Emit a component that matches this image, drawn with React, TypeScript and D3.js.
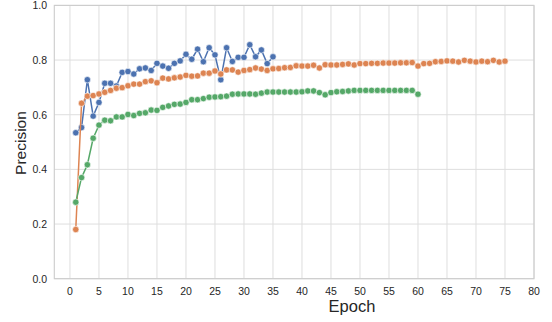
import { useEffect, useRef } from "react";
import * as d3 from "d3";

const blueValues = [
  0.534, 0.553, 0.728, 0.595, 0.645, 0.715, 0.715, 0.705, 0.755, 0.758,
  0.749, 0.768, 0.771, 0.762, 0.788, 0.778, 0.77, 0.788, 0.797, 0.821,
  0.803, 0.84, 0.794, 0.845, 0.819, 0.728, 0.845, 0.795, 0.81, 0.81,
  0.856, 0.812, 0.837, 0.787, 0.812,
];

const orangeValues = [
  0.18, 0.642, 0.668, 0.67, 0.676, 0.682, 0.689, 0.697, 0.699, 0.706,
  0.712, 0.712, 0.721, 0.724, 0.717, 0.734, 0.731, 0.735, 0.738, 0.744,
  0.741, 0.742, 0.752, 0.752, 0.76, 0.749, 0.764, 0.764, 0.756, 0.762,
  0.765, 0.771, 0.767, 0.762, 0.768, 0.769, 0.772, 0.773, 0.779, 0.778,
  0.778, 0.781, 0.771, 0.783, 0.782, 0.782, 0.784, 0.786, 0.782, 0.787,
  0.787, 0.788, 0.788, 0.789, 0.789, 0.789, 0.79, 0.79, 0.791, 0.778,
  0.787, 0.788, 0.794, 0.795, 0.797, 0.796, 0.793, 0.799, 0.796, 0.793,
  0.796, 0.794, 0.799, 0.793, 0.796,
];

const greenValues = [
  0.28, 0.37, 0.417, 0.514, 0.562, 0.58, 0.578, 0.592, 0.592, 0.601,
  0.597, 0.605, 0.607, 0.617, 0.616, 0.627, 0.632, 0.638, 0.639, 0.645,
  0.655, 0.655, 0.659, 0.664, 0.665, 0.666, 0.668, 0.675, 0.676, 0.676,
  0.676, 0.675, 0.679, 0.683, 0.683, 0.683, 0.683, 0.683, 0.683, 0.684,
  0.687, 0.687, 0.681, 0.673, 0.681, 0.684, 0.685, 0.687, 0.689, 0.689,
  0.689, 0.689, 0.689, 0.689, 0.689, 0.689, 0.689, 0.689, 0.689, 0.675,
];

const xTicks = d3.range(0, 81, 5);
const yTicks = [0, 0.2, 0.4, 0.6, 0.8, 1.0];

const seriesList = [
  { name: "blue", color: "#4c72b0", values: blueValues },
  { name: "orange", color: "#dd8452", values: orangeValues },
  { name: "green", color: "#55a868", values: greenValues },
];

const WIDTH = 552;
const HEIGHT = 322;
const PLOT = { left: 54.3, right: 534, top: 5.4, bottom: 278.7 };
const FONT = "'Liberation Sans', Arial, sans-serif";

const PrecisionChart = () => {
  const svgRef = useRef<SVGSVGElement | null>(null);

  useEffect(() => {
    if (!svgRef.current) return;
    const svg = d3.select(svgRef.current);
    svg.selectAll("*").remove();

    const x = d3.scaleLinear().domain([-2.7, 80]).range([PLOT.left, PLOT.right]);
    const y = d3.scaleLinear().domain([0, 1]).range([PLOT.bottom, PLOT.top]);

    svg
      .append("rect")
      .attr("width", WIDTH)
      .attr("height", HEIGHT)
      .attr("fill", "#ffffff");

    // Grid lines
    svg
      .append("g")
      .selectAll("line")
      .data(xTicks)
      .join("line")
      .attr("x1", (v) => x(v))
      .attr("x2", (v) => x(v))
      .attr("y1", PLOT.top)
      .attr("y2", PLOT.bottom)
      .attr("stroke", "#dedede")
      .attr("stroke-width", 1);

    svg
      .append("g")
      .selectAll("line")
      .data(yTicks)
      .join("line")
      .attr("x1", PLOT.left)
      .attr("x2", PLOT.right)
      .attr("y1", (v) => y(v))
      .attr("y2", (v) => y(v))
      .attr("stroke", "#dedede")
      .attr("stroke-width", 1);

    // Frame
    svg
      .append("rect")
      .attr("x", PLOT.left)
      .attr("y", PLOT.top)
      .attr("width", PLOT.right - PLOT.left)
      .attr("height", PLOT.bottom - PLOT.top)
      .attr("fill", "none")
      .attr("stroke", "#cccccc")
      .attr("stroke-width", 1.1);

    // Tick labels
    svg
      .append("g")
      .selectAll("text")
      .data(xTicks)
      .join("text")
      .attr("x", (v) => x(v))
      .attr("y", 295)
      .attr("text-anchor", "middle")
      .attr("font-family", FONT)
      .attr("font-size", 10.5)
      .attr("fill", "#262626")
      .text((v) => String(v));

    svg
      .append("g")
      .selectAll("text")
      .data(yTicks)
      .join("text")
      .attr("x", 47)
      .attr("y", (v) => y(v) + 3.8)
      .attr("text-anchor", "end")
      .attr("font-family", FONT)
      .attr("font-size", 10.5)
      .attr("fill", "#262626")
      .text((v) => v.toFixed(1));

    // Axis labels
    svg
      .append("text")
      .attr("x", 352)
      .attr("y", 312)
      .attr("text-anchor", "middle")
      .attr("font-family", FONT)
      .attr("font-size", 16.5)
      .attr("fill", "#262626")
      .text("Epoch");

    svg
      .append("text")
      .attr("transform", `translate(26, ${(PLOT.top + PLOT.bottom) / 2 + 1}) rotate(-90)`)
      .attr("text-anchor", "middle")
      .attr("font-family", FONT)
      .attr("font-size", 15.5)
      .attr("fill", "#262626")
      .text("Precision");

    const line = d3
      .line<number>()
      .x((_, i) => x(i + 1))
      .y((v) => y(v));

    seriesList.forEach((s) => {
      const g = svg.append("g");
      g.append("path")
        .datum(s.values)
        .attr("d", line)
        .attr("fill", "none")
        .attr("stroke", s.color)
        .attr("stroke-width", 1.5);

      g.selectAll("circle")
        .data(s.values)
        .join("circle")
        .attr("cx", (_, i) => x(i + 1))
        .attr("cy", (v) => y(v))
        .attr("r", 3.2)
        .attr("fill", s.color)
        .attr("stroke", "#ffffff")
        .attr("stroke-width", 0.6);
    });
  }, []);

  return (
    <svg
      ref={svgRef}
      width={WIDTH}
      height={HEIGHT}
      style={{ position: "absolute", left: 0, top: 0 }}
    />
  );
};

export default function App() {
  return <PrecisionChart />;
}
